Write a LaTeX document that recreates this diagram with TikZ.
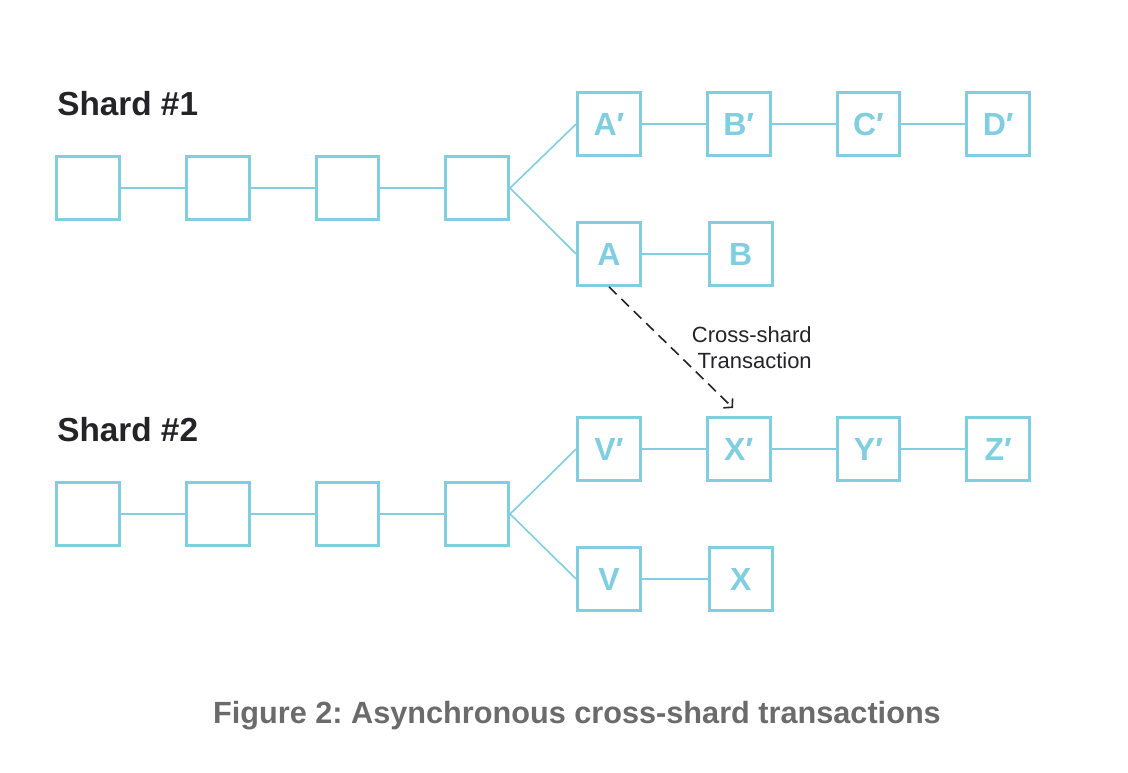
\documentclass[tikz,border=0pt]{standalone}
\usepackage{fontspec}
\setmainfont{Liberation Sans}
\usetikzlibrary{positioning,arrows.meta}
\definecolor{chainblue}{RGB}{128,206,224}
\definecolor{capgray}{RGB}{107,107,107}
\definecolor{inkdark}{RGB}{36,36,40}
\frenchspacing
\tikzset {
    block/.style={
        draw=chainblue,
        line width=2.3pt,
        rectangle, % Set the shape as a rectangle
        minimum size=47pt,
        inner sep=0pt,
        text=chainblue,
        font=\fontsize{24}{24}\selectfont\bfseries,
        align=center,
    },
    link/.style={
        draw=chainblue,
        line width=1.2pt,
    },
    shard label/.style={
        anchor=base west,
        inner sep=0pt,
        text=inkdark,
        font=\fontsize{25}{25}\selectfont\bfseries,
    },
    cross tx/.style={
        draw=inkdark,
        line width=1.2pt,
        dash pattern=on 8pt off 5pt,
        -{Straight Barb[length=4.5pt,width=10pt]},
    },
}

\begin{document}
\begin{tikzpicture}[x=0.75pt, y=-0.75pt]
        \useasboundingbox (0,0) rectangle (1128,772);

        % shard 1
        \node[shard label] (lab1) at (57,115) {Shard \#1};
        \node[block] (p1) at (88,188) {};
        \node[block, right=48pt of p1] (p2) {};
        \node[block, right=48pt of p2] (p3) {};
        \node[block, right=48pt of p3] (p4) {};
        \node[block] (a1) at (609,124) {A′};
        \node[block, right=48pt of a1] (b1) {B′};
        \node[block, right=48pt of b1] (c1) {C′};
        \node[block, right=48pt of c1] (d1) {D′};
        \node[block] (a) at (609,254) {A};
        \node[block, right=49.5pt of a] (b) {B};

        \draw[link] (p1) -- (p2) -- (p3) -- (p4);
        \draw[link] (p4.east) -- (a1.west);
        \draw[link] (p4.east) -- (a.west);
        \draw[link] (a1) -- (b1) -- (c1) -- (d1);
        \draw[link] (a) -- (b);

        % shard 2
        \node[shard label] (lab2) at (57,441) {Shard \#2};
        \node[block] (q1) at (88,514) {};
        \node[block, right=48pt of q1] (q2) {};
        \node[block, right=48pt of q2] (q3) {};
        \node[block, right=48pt of q3] (q4) {};
        \node[block] (v1) at (609,449) {V′};
        \node[block, right=48pt of v1] (x1) {X′};
        \node[block, right=48pt of x1] (y1) {Y′};
        \node[block, right=48pt of y1] (z1) {Z′};
        \node[block] (v) at (609,579) {V};
        \node[block, right=49.5pt of v] (x) {X};

        \draw[link] (q1) -- (q2) -- (q3) -- (q4);
        \draw[link] (q4.east) -- (v1.west);
        \draw[link] (q4.east) -- (v.west);
        \draw[link] (v1) -- (x1) -- (y1) -- (z1);
        \draw[link] (v) -- (x);

        % cross-shard transaction
        \coordinate (txend) at (733,408);
        \draw[cross tx] (a.south) -- (txend);
        \node[anchor=east, align=right, inner sep=0pt, text=inkdark,
              font=\fontsize{16.5}{19.5}\selectfont] (txlabel) at (812,348) {Cross-shard\\Transaction};

        % caption
        \node[text=capgray, font=\fontsize{23}{23}\selectfont\bfseries] (caption) at (577,716)
            {Figure 2: Asynchronous cross-shard transactions};

    \end{tikzpicture}
\end{document}
